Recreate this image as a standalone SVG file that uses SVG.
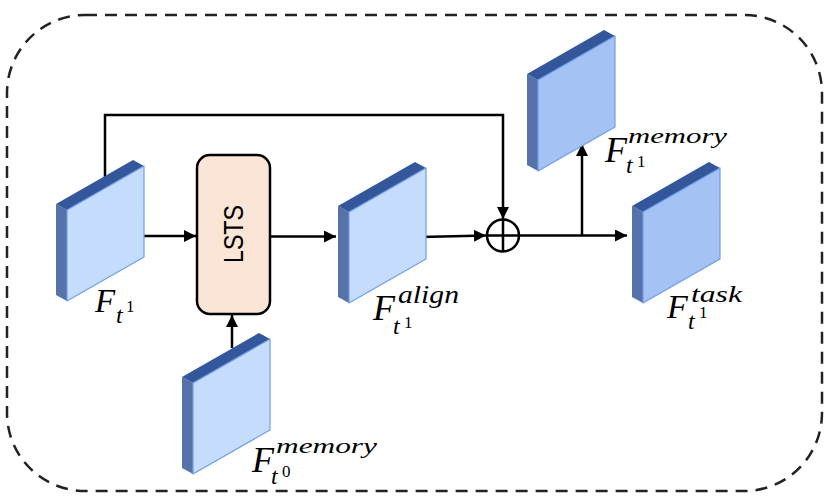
<svg xmlns="http://www.w3.org/2000/svg" width="831" height="502" viewBox="0 0 831 502">
<style>
.front{fill:#c6dcfc;stroke:#6d9eeb;stroke-width:1.2;stroke-linejoin:round}
.front2{fill:#a4c2f4;stroke:#6d9eeb;stroke-width:1.2;stroke-linejoin:round}
.side{fill:#5672a8}
.top{fill:#33579a}
.ln{fill:none;stroke:#000;stroke-width:2.5}
.m{font-family:"Liberation Serif","DejaVu Serif",serif;font-style:italic;fill:#000}
.n{font-family:"Liberation Serif","DejaVu Serif",serif;fill:#000}
</style>
<defs>
<marker id="ah" viewBox="0 0 10 10" refX="10" refY="5" markerWidth="4.8" markerHeight="4.8" markerUnits="strokeWidth" orient="auto">
<path d="M0,0 L10,5 L0,10 Z" fill="#000"/>
</marker>
<g id="slabA">
<path class="side" d="M-11,-6 L0,0 L0,91 L-11,85 Z"/>
<path class="top" d="M-11,-6 L66,-50 L77,-44 L0,0 Z"/>
<path class="front" d="M0,0 L77,-44 L77,47 L0,91 Z"/>
</g>
<g id="slabB">
<path class="side" d="M-11,-6 L0,0 L0,91 L-11,85 Z"/>
<path class="top" d="M-11,-6 L66,-50 L77,-44 L0,0 Z"/>
<path class="front2" d="M0,0 L77,-44 L77,47 L0,91 Z"/>
</g>
</defs>
<rect x="7" y="15" width="815" height="476" rx="78" ry="78" fill="none" stroke="#222" stroke-width="2.5" stroke-dasharray="12 8"/>

<g id="connectors">
<path class="ln" d="M105,180 L105,115 L503,115 L503,219" marker-end="url(#ah)"/>
<path class="ln" d="M106,236 L196,236" marker-end="url(#ah)"/>
<path class="ln" d="M270,236.5 L336,236.5" marker-end="url(#ah)"/>
<path class="ln" d="M232,348 L232,315" marker-end="url(#ah)"/>
<path class="ln" d="M399,237.5 L486,235.5" marker-end="url(#ah)"/>
<path class="ln" d="M520,235.5 L627,235.5" marker-end="url(#ah)"/>
<path class="ln" d="M582,235.5 L582,144" marker-end="url(#ah)"/>
</g>

<g id="node-ft1">
<use href="#slabA" transform="translate(67,210)"/>
<text class="m" x="95" y="312" font-size="33">F</text>
<text class="m" x="116" y="323" font-size="24">t</text>
<text class="n" x="126" y="312" font-size="17">1</text>
</g>

<g id="node-lsts">
<rect x="197" y="155" width="73" height="159" rx="13" ry="13" fill="#fbe5d6" stroke="#000" stroke-width="2.5"/>
<text transform="translate(243,234) rotate(-90)" text-anchor="middle" font-family="Liberation Sans, Arial, sans-serif" font-size="28" textLength="58" lengthAdjust="spacingAndGlyphs">LSTS</text>
</g>

<g id="node-align">
<use href="#slabA" transform="translate(349,212)"/>
<text class="m" x="373" y="320" font-size="36">F</text>
<text class="m" x="398" y="303" font-size="26" textLength="61" lengthAdjust="spacingAndGlyphs">align</text>
<text class="m" x="393" y="334" font-size="24">t</text>
<text class="n" x="404" y="328" font-size="17">1</text>
</g>

<g id="node-mem0">
<use href="#slabA" transform="translate(193,383)"/>
<text class="m" x="252" y="472" font-size="36">F</text>
<text class="m" x="276" y="453" font-size="22" textLength="101" lengthAdjust="spacingAndGlyphs">memory</text>
<text class="m" x="271" y="484" font-size="24">t</text>
<text class="n" x="282" y="477" font-size="17">0</text>
</g>

<g id="node-plus">
<circle cx="503" cy="235.5" r="16" fill="#fff" stroke="#000" stroke-width="2.5"/>
<path class="ln" d="M487,235.5 L519,235.5 M503,219.5 L503,251.5"/>
</g>

<g id="node-mem1">
<use href="#slabB" transform="translate(538,80)"/>
<text class="m" x="605" y="162" font-size="36">F</text>
<text class="m" x="628" y="143" font-size="22" textLength="99" lengthAdjust="spacingAndGlyphs">memory</text>
<text class="m" x="626" y="173" font-size="24">t</text>
<text class="n" x="637" y="167" font-size="17">1</text>
</g>

<g id="node-task">
<use href="#slabB" transform="translate(643,212)"/>
<text class="m" x="667" y="318" font-size="34">F</text>
<text class="m" x="691" y="302" font-size="24" textLength="51" lengthAdjust="spacingAndGlyphs">task</text>
<text class="m" x="688" y="329" font-size="24">t</text>
<text class="n" x="699" y="318" font-size="17">1</text>
</g>
</svg>
